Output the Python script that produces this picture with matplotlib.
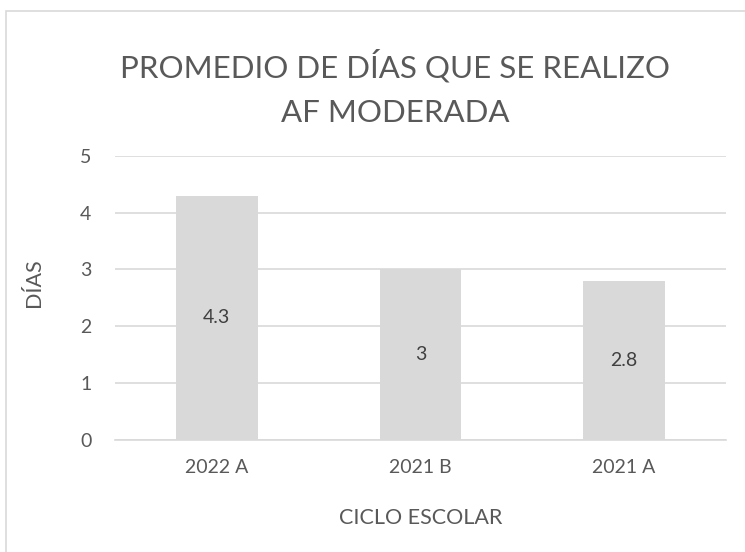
import matplotlib
matplotlib.use("Agg")
import matplotlib.pyplot as plt
from matplotlib.patches import Rectangle

ciclos = ["2022 A", "2021 B", "2021 A"]
dias = [4.3, 3, 2.8]
etiquetas = ["4.3", "3", "2.8"]

plt.rcParams['font.family'] = ['Lato', 'DejaVu Sans']
gris_txt = '#595959'
gris = '#d9d9d9'

fig = plt.figure(figsize=(7.45, 5.52), dpi=100)
ax = fig.add_axes([115/745, 1 - 440/552, 611/745, 284.3/552])

x = range(len(ciclos))
bars = ax.bar(x, dias, width=0.4, color=gris, zorder=2)
for b, t in zip(bars, etiquetas):
    ax.text(b.get_x() + b.get_width()/2, b.get_height()/2, t,
            ha='center', va='center', fontsize=14, color='#404040', zorder=3)

ax.set_xlim(-0.5, 2.5)
ax.set_ylim(0, 5)
ax.set_yticks(range(6))
ax.set_xticks(list(x))
ax.set_xticklabels(ciclos)
ax.grid(axis='y', color=gris, linewidth=1.2, zorder=0)
for s in ['top', 'right', 'left']:
    ax.spines[s].set_visible(False)
ax.spines['bottom'].set_color(gris)
ax.spines['bottom'].set_linewidth(1.2)
ax.tick_params(axis='both', length=0, labelsize=14, labelcolor=gris_txt)
ax.tick_params(axis='y', pad=17)
ax.tick_params(axis='x', pad=14)

ax.set_ylabel('DÍAS', fontsize=15.5, color=gris_txt)
ax.yaxis.set_label_coords(-0.116, 0.552)
ax.set_xlabel('CICLO ESCOLAR', fontsize=15.5, color=gris_txt)
ax.xaxis.set_label_coords(0.5, -0.276)
ax.xaxis.label.set_va('center')

fig.text(395.5/745, 1 - 77/552, 'PROMEDIO DE DÍAS QUE SE REALIZO', ha='center', va='baseline',
         fontsize=22.5, color=gris_txt)
fig.text(395.5/745, 1 - 122/552, 'AF MODERADA', ha='center', va='baseline',
         fontsize=22.5, color=gris_txt)

# chart area border
fig.patches.append(Rectangle((6.5/745, -0.1), 1.2, 1.1 - 11/552, transform=fig.transFigure,
                             fill=False, edgecolor=gris, linewidth=1.2))

fig.savefig('out.png', dpi=100)
